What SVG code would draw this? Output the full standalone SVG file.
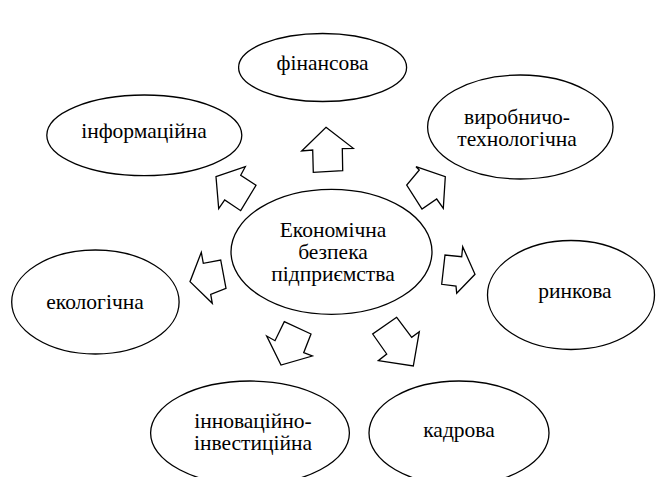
<svg xmlns="http://www.w3.org/2000/svg" width="656" height="477" viewBox="0 0 656 477">
<style>
.n{fill:#fff;stroke:#000;stroke-width:1.3}
.a{fill:#fff;stroke:#000;stroke-width:1.3;stroke-linejoin:miter}
.t{font-family:'Liberation Serif','Times New Roman',serif;font-size:21.5px;fill:#000;text-anchor:middle}
</style>
<rect width="656" height="477" fill="#fff"/>
<g id="connectors">
<polygon class="a" points="326,127.3 353.3,148.3 342.3,148.7 342.7,170.7 313.3,172.3 312.7,150 301.7,151"/>
<polygon class="a" points="216,176.7 245.3,166.7 240.7,175.3 256,185.3 240.7,210.7 224.7,200 218.7,208.7"/>
<polygon class="a" points="416,166.7 419.3,170 406.7,185 422,209 436.7,199 443.3,208.3 445.3,176.7"/>
<polygon class="a" points="201.3,252.3 203.3,263.3 220.7,260 226,288.3 210.7,294.3 212.3,303.3 190,281.7"/>
<polygon class="a" points="462.7,246.7 461.7,256.7 445,255 441.7,284.3 456,286 456.7,293.3 475,274.3"/>
<polygon class="a" points="284.3,321.7 311,334 303.7,352.7 312.3,356 281,365 266.7,336 275,340.7"/>
<polygon class="a" points="396.7,317.3 372.7,334 386.7,354 378.3,360.7 413.3,366 419.3,331.7 411.7,337.3"/>
</g>
<g id="center">
<ellipse class="n" cx="331.5" cy="251.8" rx="100.5" ry="62.5"/>
<text class="t" x="333" y="236.5">Економічна</text>
<text class="t" x="333" y="258.5">безпека</text>
<text class="t" x="333" y="280.5">підприємства</text>
</g>
<g id="finansova">
<ellipse class="n" cx="322.6" cy="67.5" rx="84" ry="34"/>
<text class="t" x="322.6" y="70">фінансова</text>
</g>
<g id="informatsiina">
<ellipse class="n" cx="144.3" cy="135.3" rx="97.5" ry="40.3"/>
<text class="t" x="144" y="138">інформаційна</text>
</g>
<g id="vyrobnycho">
<ellipse class="n" cx="520.3" cy="127" rx="92.7" ry="52"/>
<text class="t" x="517" y="124">виробничо-</text>
<text class="t" x="517" y="146">технологічна</text>
</g>
<g id="ekolohichna">
<ellipse class="n" cx="95.4" cy="302" rx="83.7" ry="52"/>
<text class="t" x="95" y="309">екологічна</text>
</g>
<g id="rynkova">
<ellipse class="n" cx="571" cy="295" rx="83.5" ry="54.5"/>
<text class="t" x="575" y="298">ринкова</text>
</g>
<g id="innovatsiino">
<ellipse class="n" cx="250" cy="433" rx="99.4" ry="52"/>
<text class="t" x="253" y="428">інноваційно-</text>
<text class="t" x="253" y="450">інвестиційна</text>
</g>
<g id="kadrova">
<ellipse class="n" cx="459" cy="433" rx="90" ry="52"/>
<text class="t" x="459" y="437">кадрова</text>
</g>
</svg>
